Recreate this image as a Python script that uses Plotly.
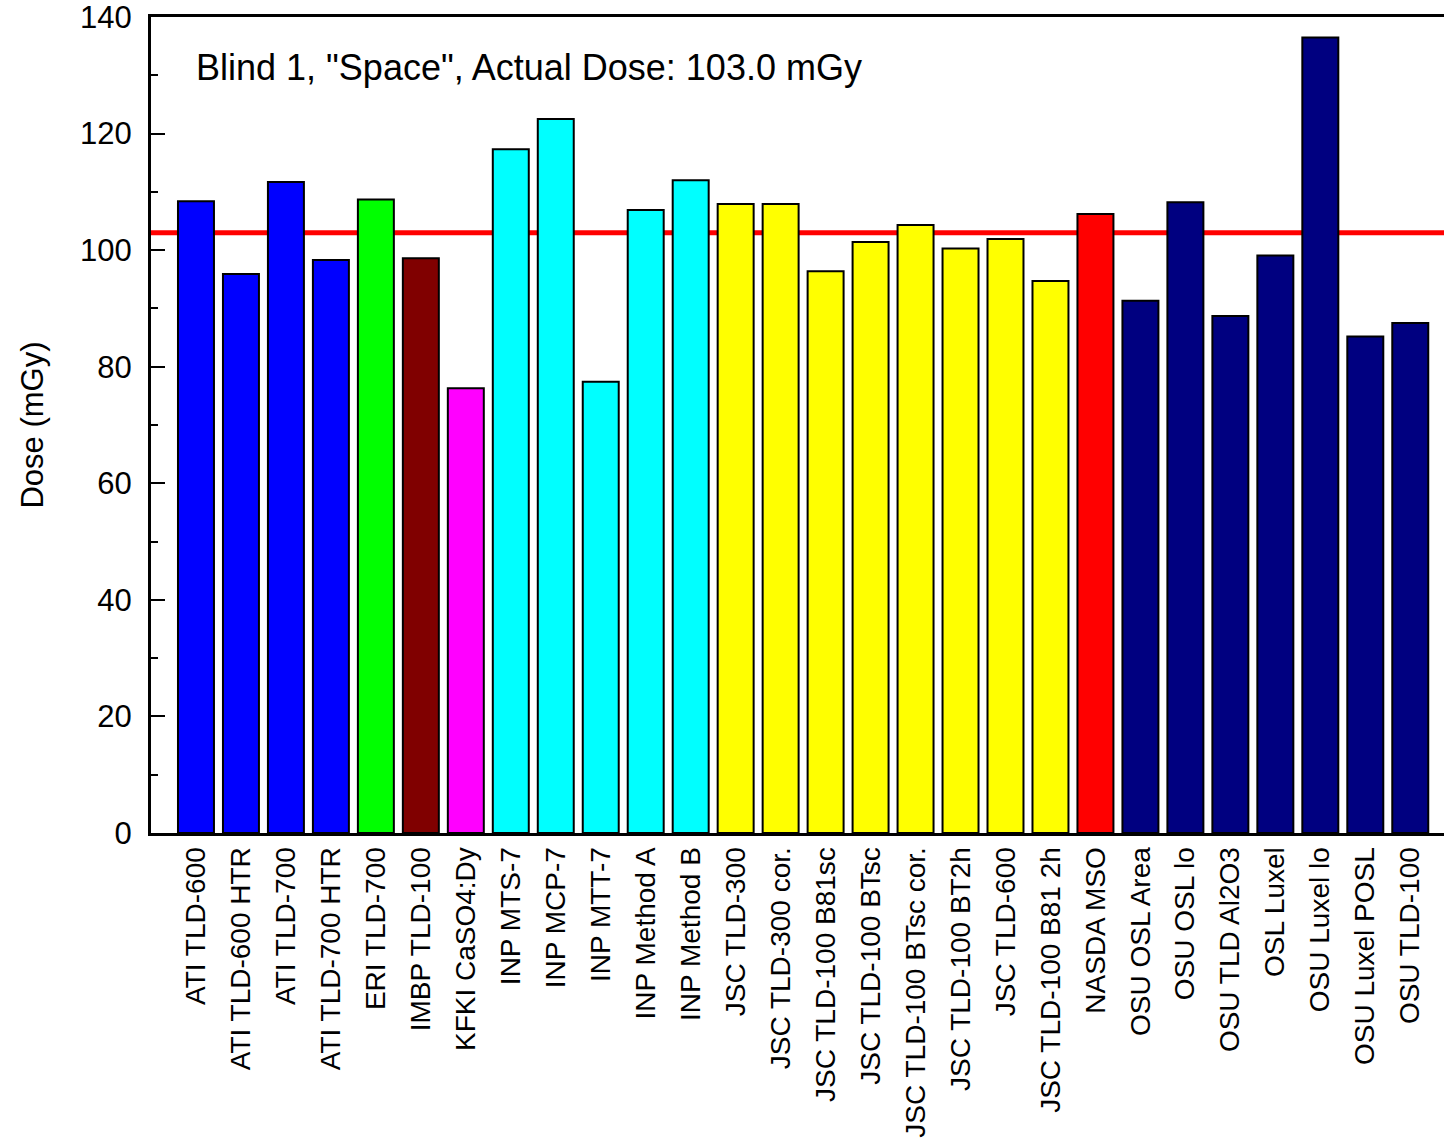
import plotly.graph_objects as go

categories = [
    "ATI TLD-600", "ATI TLD-600 HTR", "ATI TLD-700", "ATI TLD-700 HTR",
    "ERI TLD-700", "IMBP TLD-100", "KFKI CaSO4:Dy",
    "INP MTS-7", "INP MCP-7", "INP MTT-7", "INP Method A", "INP Method B",
    "JSC TLD-300", "JSC TLD-300 cor.", "JSC TLD-100 B81sc", "JSC TLD-100 BTsc",
    "JSC TLD-100 BTsc cor.", "JSC TLD-100 BT2h", "JSC TLD-600", "JSC TLD-100 B81 2h",
    "NASDA MSO",
    "OSU OSL Area", "OSU OSL lo", "OSU TLD Al2O3", "OSL Luxel", "OSU Luxel lo",
    "OSU Luxel POSL", "OSU TLD-100",
]
doses = [
    108.4, 95.9, 111.7, 98.3,
    108.7, 98.6, 76.3,
    117.3, 122.5, 77.4, 106.9, 112.0,
    107.9, 107.9, 96.4, 101.4,
    104.3, 100.3, 101.9, 94.7,
    106.2,
    91.3, 108.2, 88.7, 99.1, 136.5,
    85.2, 87.5,
]
group_colors = (
    ["#0000ff"] * 4 + ["#00ff00"] + ["#800000"] + ["#ff00ff"]
    + ["#00ffff"] * 5 + ["#ffff00"] * 8 + ["#ff0000"] + ["#000080"] * 7
)
actual_dose = 103.0
title_text = 'Blind 1, "Space", Actual Dose: 103.0 mGy'

x_idx = list(range(len(categories)))

fig = go.Figure()
fig.add_trace(go.Bar(
    x=x_idx, y=doses,
    marker=dict(color=group_colors, line=dict(color="black", width=2)),
    width=0.8,
    showlegend=False,
))

fig.add_shape(type="line", xref="paper", yref="y", x0=0, x1=1,
              y0=actual_dose, y1=actual_dose,
              line=dict(color="#ff0000", width=5), layer="below")

fig.add_annotation(text=title_text, xref="paper", yref="paper",
                   x=0.033, y=0.966, xanchor="left", yanchor="top",
                   showarrow=False,
                   font=dict(family="Liberation Sans, Arial", size=36, color="black"))

fig.update_layout(
    width=1444, height=1147,
    margin=dict(l=151, r=0, t=17, b=314),
    plot_bgcolor="white", paper_bgcolor="white",
    font=dict(family="Liberation Sans, Arial", color="black"),
)
fig.update_xaxes(
    range=[-1, 27.75],
    tickmode="array", tickvals=x_idx, ticktext=categories,
    tickangle=-90, ticks="",
    tickfont=dict(size=28),
    showline=True, linecolor="black", linewidth=3, mirror=True,
    showgrid=False, zeroline=False,
)
fig.update_yaxes(
    range=[0, 140],
    tickmode="linear", tick0=0, dtick=20,
    ticks="inside", ticklen=14, tickwidth=2, tickcolor="black",
    minor=dict(ticks="inside", ticklen=7, tickwidth=1.5, tickcolor="black", dtick=10),
    tickfont=dict(size=31),
    ticklabelstandoff=10,
    ticklabeloverflow="allow",
    showline=True, linecolor="black", linewidth=3, mirror=False,
    showgrid=False, zeroline=False,
    title=dict(text="Dose (mGy)", font=dict(size=31), standoff=28),
)

fig.write_html("out.html")
